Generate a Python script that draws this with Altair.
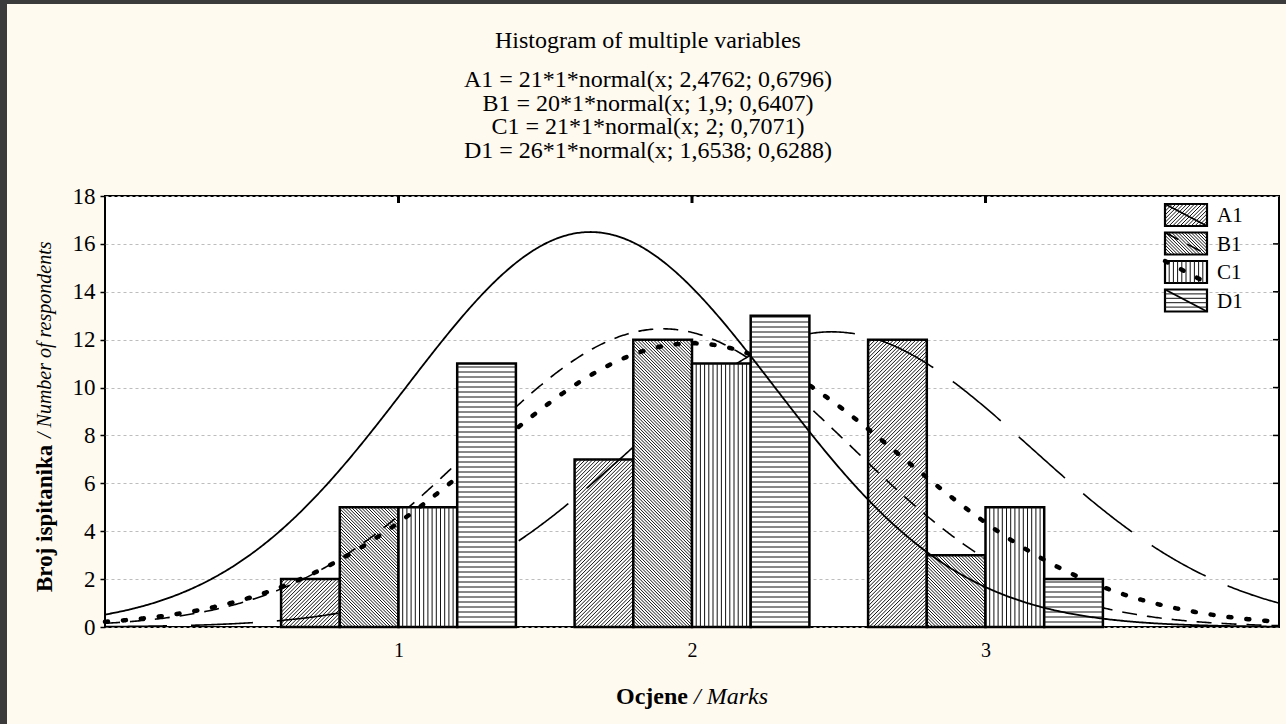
import altair as alt
import pandas as pd

# ---------------- data ----------------
marks = [1, 2, 3]
variables = ["A1", "B1", "C1", "D1"]
A1 = [2, 7, 12]
B1 = [5, 12, 3]
C1 = [5, 11, 5]
D1 = [11, 13, 2]
fit_n = [21, 20, 21, 26]
fit_mean = [2.4762, 1.9, 2.0, 1.6538]
fit_sd = [0.6796, 0.6407, 0.7071, 0.6288]
y_ticks = [0, 2, 4, 6, 8, 10, 12, 14, 16, 18]
x_ticks = [1, 2, 3]
chart_title = "Histogram of multiple variables"
fit_labels = [
    "A1 = 21*1*normal(x; 2,4762; 0,6796)",
    "B1 = 20*1*normal(x; 1,9; 0,6407)",
    "C1 = 21*1*normal(x; 2; 0,7071)",
    "D1 = 26*1*normal(x; 1,6538; 0,6288)",
]
y_title_bold = "Broj ispitanika"
y_title_italic = "/ Number of respondents"
x_title_bold = "Ocjene"
x_title_italic = "/ Marks"

# ---------------- layout ----------------
W, H = 1174, 431
FONT = "Liberation Serif"
SX = W / 4.0
SY = H / 18.0
K = SY / SX

rows = []
for vi, (name, vals) in enumerate(zip(variables, [A1, B1, C1, D1])):
    for m, c in zip(marks, vals):
        rows.append({"series": name, "vi": vi, "mark": m, "cnt": c})
bars_df = pd.DataFrame(rows)

xs = alt.Scale(domain=[0, 4], nice=False, zero=False)
ys = alt.Scale(domain=[0, 18], nice=False, zero=True)
x_axis = alt.Axis(values=x_ticks, title=None, grid=False, ticks=False, domain=False,
                  labelFont=FONT, labelFontSize=20, labelPadding=13,
                  labelColor="black", format="d")
y_axis = alt.Axis(values=y_ticks, title=None, grid=True, gridDash=[3, 3],
                  gridColor="#bdbdbd", gridWidth=1, ticks=True, tickSize=5,
                  tickColor="black", tickWidth=1.5, domain=False,
                  labelFont=FONT, labelFontSize=23, labelPadding=5,
                  labelColor="black", format="d")


def X(f):
    return alt.X(f"{f}:Q", scale=xs, axis=x_axis)


def Y(f):
    return alt.Y(f"{f}:Q", scale=ys, axis=y_axis)


def PX(f):
    return alt.X(f"{f}:Q", scale=None, axis=None)


def PY(f):
    return alt.Y(f"{f}:Q", scale=None, axis=None)


base = (alt.Chart(bars_df)
        .transform_calculate(x0="datum.mark - 0.4 + datum.vi * 0.2")
        .transform_calculate(x1="datum.x0 + 0.2")
        .transform_calculate(zero="0"))

HATCH = dict(color="#111111", strokeWidth=1)
SPACING = {"slash": 3.7, "backslash": 3.2, "vert": 4.2, "horiz": 5.0}


def data_hatch(sub, kind):
    if kind == "vert":
        d = SPACING["vert"] / SX
        h = (sub.transform_calculate(ks=f"sequence(1, ceil(0.2 / {d}))")
             .transform_flatten(["ks"])
             .transform_calculate(hx=f"datum.x0 + datum.ks * {d}")
             .transform_filter("datum.hx < datum.x1 - 0.002"))
        return h.mark_rule(**HATCH).encode(x=X("hx"), y=Y("zero"), y2="cnt:Q")
    if kind == "horiz":
        d = SPACING["horiz"] / SY
        h = (sub.transform_calculate(ks=f"sequence(1, ceil(datum.cnt / {d}))")
             .transform_flatten(["ks"])
             .transform_calculate(hy=f"datum.ks * {d}")
             .transform_filter("datum.hy < datum.cnt - 0.03"))
        return h.mark_rule(**HATCH).encode(x=X("x0"), x2="x1:Q", y=Y("hy"))
    if kind == "slash":
        d = SPACING["slash"] / SX
        h = (sub.transform_calculate(ks=f"sequence(0, ceil((0.2 + datum.cnt * {K}) / {d}) + 1)")
             .transform_flatten(["ks"])
             .transform_calculate(c=f"datum.x0 - datum.cnt * {K} + datum.ks * {d}")
             .transform_calculate(ylo=f"max(0, (datum.x0 - datum.c) / {K})")
             .transform_calculate(yhi=f"min(datum.cnt, (datum.x1 - datum.c) / {K})")
             .transform_filter("datum.yhi - datum.ylo > 0.03")
             .transform_calculate(xa=f"datum.c + datum.ylo * {K}")
             .transform_calculate(xb=f"datum.c + datum.yhi * {K}"))
        return h.mark_rule(**HATCH).encode(x=X("xa"), x2="xb:Q", y=Y("ylo"), y2="yhi:Q")
    d = SPACING["backslash"] / SX
    h = (sub.transform_calculate(ks=f"sequence(0, ceil((0.2 + datum.cnt * {K}) / {d}) + 1)")
         .transform_flatten(["ks"])
         .transform_calculate(c=f"datum.x0 + datum.ks * {d}")
         .transform_calculate(ylo=f"max(0, (datum.c - datum.x1) / {K})")
         .transform_calculate(yhi=f"min(datum.cnt, (datum.c - datum.x0) / {K})")
         .transform_filter("datum.yhi - datum.ylo > 0.03")
         .transform_calculate(xa=f"datum.c - datum.ylo * {K}")
         .transform_calculate(xb=f"datum.c - datum.yhi * {K}"))
    return h.mark_rule(**HATCH).encode(x=X("xa"), x2="xb:Q", y=Y("ylo"), y2="yhi:Q")


def pixel_hatch(sub, kind):
    if kind == "vert":
        d = SPACING["vert"]
        h = (sub.transform_calculate(ks=f"sequence(1, ceil((datum.X1 - datum.X0) / {d}))")
             .transform_flatten(["ks"])
             .transform_calculate(hx=f"datum.X0 + datum.ks * {d}")
             .transform_filter("datum.hx < datum.X1 - 0.5"))
        return h.mark_rule(**HATCH).encode(x=PX("hx"), y=PY("Y0"), y2="Y1:Q")
    if kind == "horiz":
        d = 4.4
        h = (sub.transform_calculate(ks=f"sequence(1, ceil((datum.Y1 - datum.Y0) / {d}))")
             .transform_flatten(["ks"])
             .transform_calculate(hy=f"datum.Y0 + datum.ks * {d}")
             .transform_filter("datum.hy < datum.Y1 - 0.5"))
        return h.mark_rule(**HATCH).encode(x=PX("X0"), x2="X1:Q", y=PY("hy"))
    if kind == "slash":
        d = SPACING["slash"]
        h = (sub.transform_calculate(ks=f"sequence(0, ceil((datum.X1 - datum.X0 + datum.Y1 - datum.Y0) / {d}) + 1)")
             .transform_flatten(["ks"])
             .transform_calculate(c=f"datum.X0 + datum.Y0 + datum.ks * {d}")
             .transform_calculate(ya="max(datum.Y0, datum.c - datum.X1)")
             .transform_calculate(yb="min(datum.Y1, datum.c - datum.X0)")
             .transform_filter("datum.yb - datum.ya > 0.5")
             .transform_calculate(xa="datum.c - datum.ya")
             .transform_calculate(xb="datum.c - datum.yb"))
        return h.mark_rule(**HATCH).encode(x=PX("xa"), x2="xb:Q", y=PY("ya"), y2="yb:Q")
    d = SPACING["backslash"]
    h = (sub.transform_calculate(ks=f"sequence(0, ceil((datum.X1 - datum.X0 + datum.Y1 - datum.Y0) / {d}) + 1)")
         .transform_flatten(["ks"])
         .transform_calculate(c=f"datum.X0 - datum.Y1 + datum.ks * {d}")
         .transform_calculate(ya="max(datum.Y0, datum.X0 - datum.c)")
         .transform_calculate(yb="min(datum.Y1, datum.X1 - datum.c)")
         .transform_filter("datum.yb - datum.ya > 0.5")
         .transform_calculate(xa="datum.c + datum.ya")
         .transform_calculate(xb="datum.c + datum.yb"))
    return h.mark_rule(**HATCH).encode(x=PX("xa"), x2="xb:Q", y=PY("ya"), y2="yb:Q")


kinds = {"A1": "slash", "B1": "backslash", "C1": "vert", "D1": "horiz"}
line_styles = {
    "A1": dict(strokeDash=[62, 24], strokeWidth=1.6),
    "B1": dict(strokeDash=[15, 10], strokeWidth=1.6),
    "C1": dict(strokeDash=[3, 15], strokeWidth=4.5, strokeCap="round"),
    "D1": dict(strokeWidth=1.8),
}

layers = []
for i, v in enumerate(variables):
    sub = base.transform_filter(f"datum.series == '{v}'")
    layers.append(sub.mark_rect(fill="white", stroke="black", strokeWidth=2.5)
                  .encode(x=X("x0"), x2="x1:Q", y=Y("zero"), y2="cnt:Q"))
    layers.append(data_hatch(sub, kinds[v]))
    n, m, s = fit_n[i], fit_mean[i], fit_sd[i]
    curve = (alt.Chart(alt.sequence(0, 4.0001, 0.005, as_="x"))
             .transform_calculate(y=f"{n} * exp(-0.5 * pow((datum.x - {m}) / {s}, 2)) / ({s} * sqrt(2 * PI))")
             .mark_line(color="black", **line_styles[v])
             .encode(x=X("x"), y=Y("y")))
    layers.append(curve)

# ---------------- legend (inside, top right) ----------------
lg = pd.DataFrame({"series": variables, "li": [0, 1, 2, 3]})
lbase = (alt.Chart(lg)
         .transform_calculate(X0="1060")
         .transform_calculate(X1="1102")
         .transform_calculate(Y0="8 + datum.li * 28.5")
         .transform_calculate(Y1="datum.Y0 + 22")
         .transform_calculate(TX="datum.X1 + 10")
         .transform_calculate(TY="datum.Y0 + 12"))
for v in variables:
    lsub = lbase.transform_filter(f"datum.series == '{v}'")
    layers.append(lsub.mark_rect(fill="white", stroke="black", strokeWidth=2.2)
                  .encode(x=PX("X0"), x2="X1:Q", y=PY("Y0"), y2="Y1:Q"))
    layers.append(pixel_hatch(lsub, kinds[v]))
    layers.append(lsub.mark_rule(color="black", **line_styles[v])
                  .encode(x=PX("X0"), x2="X1:Q", y=PY("Y0"), y2="Y1:Q"))
layers.append(lbase.mark_text(font=FONT, fontSize=21, align="left", baseline="middle", color="black")
              .encode(x=PX("TX"), y=PY("TY"), text="series:N"))

# ---------------- extra frame ticks ----------------
layers.append(alt.Chart(pd.DataFrame({"v": y_ticks[1:-1]}))
              .mark_rule(color="black", strokeWidth=1.5)
              .encode(y=Y("v"), x=alt.value(W - 6), x2=alt.value(W)))
layers.append(alt.Chart(pd.DataFrame({"v": x_ticks}))
              .mark_rule(color="black", strokeWidth=3)
              .encode(x=X("v"), y=alt.value(0), y2=alt.value(7)))

# ---------------- titles ----------------
dummy = pd.DataFrame({"k": [0]})
TITLE_X = 543
layers.append(alt.Chart(dummy).mark_text(text=chart_title, font=FONT, fontSize=24,
                                         align="center", baseline="middle", color="black")
              .encode(x=alt.value(TITLE_X), y=alt.value(-155)))
for j, line in enumerate(fit_labels):
    layers.append(alt.Chart(dummy).mark_text(text=line, font=FONT, fontSize=24,
                                             align="center", baseline="middle", color="black")
                  .encode(x=alt.value(TITLE_X), y=alt.value(-116 + 23.7 * j)))

# ---------------- axis titles (mixed bold / italic) ----------------
layers.append(alt.Chart(dummy).mark_text(text=y_title_bold, font=FONT, fontSize=23, fontWeight="bold",
                                         angle=270, align="left", baseline="middle", color="black")
              .encode(x=alt.value(-60), y=alt.value(396)))
layers.append(alt.Chart(dummy).mark_text(text=y_title_italic, font=FONT, fontSize=20, fontStyle="italic",
                                         angle=270, align="left", baseline="middle", color="black")
              .encode(x=alt.value(-60), y=alt.value(242)))
layers.append(alt.Chart(dummy).mark_text(text=x_title_bold, font=FONT, fontSize=24, fontWeight="bold",
                                         align="right", baseline="middle", color="black")
              .encode(x=alt.value(583), y=alt.value(501)))
layers.append(alt.Chart(dummy).mark_text(text=x_title_italic, font=FONT, fontSize=24, fontStyle="italic",
                                         align="left", baseline="middle", color="black")
              .encode(x=alt.value(589), y=alt.value(501)))

# dark window edges of the original screenshot
layers.append(alt.Chart(dummy).mark_rect(color="#3b3b3b")
              .encode(x=alt.value(-105), x2=alt.value(-98), y=alt.value(-196), y2=alt.value(H + 97)))
layers.append(alt.Chart(dummy).mark_rect(color="#3b3b3b")
              .encode(x=alt.value(-105), x2=alt.value(W + 7), y=alt.value(-196), y2=alt.value(-192)))

chart = alt.layer(*layers).properties(
    width=W,
    height=H,
    padding={"left": 105, "top": 196, "right": 7, "bottom": 97},
    autosize=alt.AutoSizeParams(type="none"),
    background="#FFFAF0",
).configure_view(stroke="black", strokeWidth=2, fill="white")

chart.save("out.html", embed_options={"renderer": "svg", "actions": False})
